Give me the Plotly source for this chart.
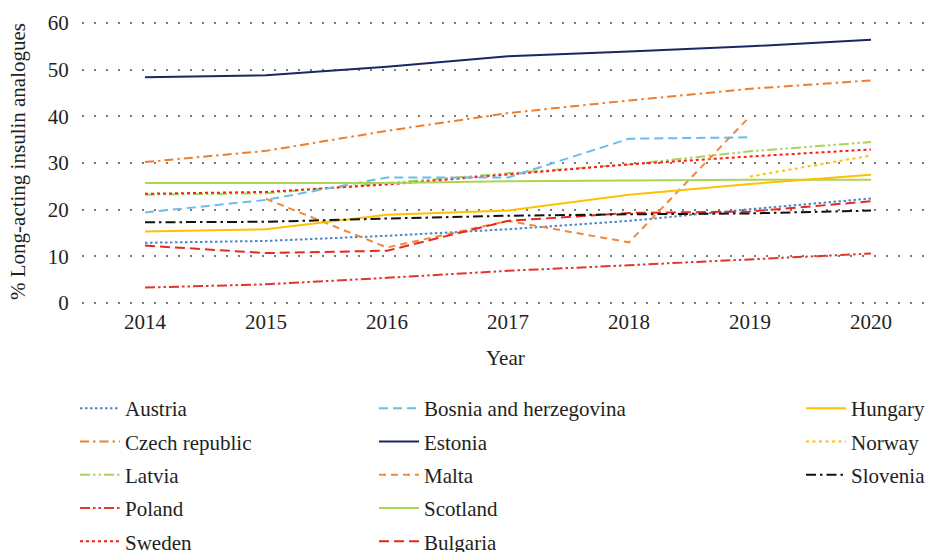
import plotly.graph_objects as go

years = [2014, 2015, 2016, 2017, 2018, 2019, 2020]

austria = [12.9, 13.3, 14.4, 15.8, 17.6, 20.1, 22.4]
czech_republic = [30.2, 32.6, 36.9, 40.7, 43.4, 45.9, 47.7]
latvia = [23.2, 23.5, 25.7, 27.8, 29.7, 32.5, 34.5]
poland = [3.3, 4.0, 5.4, 6.9, 8.1, 9.4, 10.6]
sweden = [23.4, 23.8, 25.4, 27.5, 29.7, 31.4, 32.9]
bosnia = [19.4, 22.1, 26.9, 26.9, 35.2, 35.5, None]
estonia = [48.4, 48.8, 50.6, 52.9, 53.9, 55.0, 56.4]
malta = [None, 22.3, 11.9, 17.6, 13.0, 40.0, None]
scotland = [25.7, 25.7, 25.7, 26.1, 26.3, 26.4, 26.4]
bulgaria = [12.3, 10.7, 11.2, 17.6, 19.3, 19.6, 21.8]
hungary = [15.3, 15.8, 18.9, 19.8, 23.2, 25.5, 27.5]
norway = [None, None, None, None, None, 27.1, 31.6]
slovenia = [17.3, 17.4, 18.1, 18.7, 19.0, 19.2, 19.8]

y_ticks = [0, 10, 20, 30, 40, 50, 60]
x_title = "Year"
y_title = "% Long-acting insulin analogues"

FONT = "'Liberation Serif', Tinos, 'Times New Roman', 'DejaVu Serif', serif"
TXT = "#231F20"
FS = 21

series = [
    # name, values, color, dash, width, legend
    ("Austria", austria, "#4A86C8", "2.5px,2.5px", 2, "legend"),
    ("Czech republic", czech_republic, "#EE7E2F", "9px,4px,2.5px,4px", 2, "legend"),
    ("Latvia", latvia, "#A9D35A", "10px,3px,2.5px,3px,2.5px,3px", 2, "legend"),
    ("Poland", poland, "#E2352B", "10px,3px,2.5px,3px,2.5px,3px", 2, "legend"),
    ("Sweden", sweden, "#FF1A1A", "3px,3px", 2, "legend"),
    ("Bosnia and herzegovina", bosnia, "#6BBDE8", "9px,5px", 2, "legend2"),
    ("Estonia", estonia, "#1C2660", "solid", 2, "legend2"),
    ("Malta", malta, "#F0883D", "7px,5px", 2, "legend2"),
    ("Scotland", scotland, "#ACD455", "solid", 2, "legend2"),
    ("Bulgaria", bulgaria, "#E42A1E", "10px,5px", 2, "legend2"),
    ("Hungary", hungary, "#FFC000", "solid", 2, "legend3"),
    ("Norway", norway, "#FFC000", "3px,3.5px", 2, "legend3"),
    ("Slovenia", slovenia, "#111111", "10px,4px,2.5px,4px", 2, "legend3"),
]

fig = go.Figure()
for name, vals, color, dash, w, lg in series:
    fig.add_trace(go.Scatter(
        x=years, y=vals, mode="lines", name=name,
        line=dict(color=color, dash=dash, width=w),
        legend=lg, legendgroup=name, connectgaps=False,
    ))

W, H = 929, 552
L, R, T, B = 82, 0, 19, 245
PW, PH = W - L - R, H - T - B
PLOT_BOTTOM = H - B
PX_PER_UNIT = 280 / 60.0
PAD = (PH - 280) / 2 / PX_PER_UNIT

leg_common = dict(
    orientation="v", xref="container", yref="container",
    yanchor="top", xanchor="left",
    font=dict(family=FONT, size=FS, color=TXT),
    bgcolor="rgba(0,0,0,0)", tracegroupgap=3, itemwidth=40,
)

fig.update_layout(
    width=W, height=H,
    margin=dict(l=L, r=R, t=T, b=B, autoexpand=False),
    paper_bgcolor="white", plot_bgcolor="white",
    font=dict(family=FONT, size=FS, color=TXT),
    showlegend=True,
    legend=dict(x=75 / W, y=1 - 388 / H, **leg_common),
    legend2=dict(x=374 / W, y=1 - 388 / H, **leg_common),
    legend3=dict(x=801 / W, y=1 - 388 / H, **leg_common),
    xaxis=dict(
        range=[2014 - 63 / 121, 2014 - 63 / 121 + PW / 121],
        tickvals=years, ticktext=[str(y) for y in years],
        showgrid=False, zeroline=False, showline=False,
        ticks="",
        tickfont=dict(family=FONT, size=FS, color=TXT),
        automargin=False,
    ),
    yaxis=dict(
        range=[0 - PAD, 60 + PAD], tickvals=y_ticks,
        showgrid=True, gridcolor="#7a7a7a", gridwidth=2, griddash="2px,10px",
        zeroline=False, showline=False,
        ticks="outside", ticklen=8, tickcolor="rgba(0,0,0,0)",
        tickfont=dict(family=FONT, size=FS, color=TXT),
        automargin=False,
    ),
    annotations=[
        dict(text=x_title, xref="paper", yref="paper", x=0.5,
             y=(PLOT_BOTTOM - 358) / PH,
             xanchor="center", yanchor="middle", showarrow=False,
             font=dict(family=FONT, size=FS, color=TXT)),
        dict(text=y_title, xref="paper", yref="paper", x=(18 - L) / PW,
             y=(PLOT_BOTTOM - 162) / PH,
             xanchor="center", yanchor="middle", showarrow=False, textangle=-90,
             font=dict(family=FONT, size=FS, color=TXT)),
    ],
)

fig.write_html("out.html", config={"displayModeBar": False},
               post_script="document.body.style.margin='0';")
